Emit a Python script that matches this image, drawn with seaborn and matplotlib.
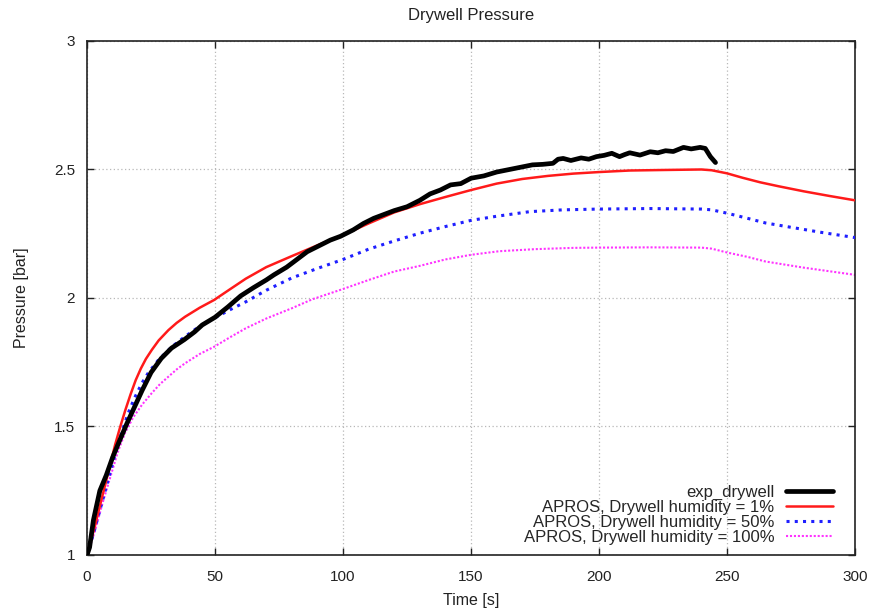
import matplotlib
matplotlib.use("Agg")
import matplotlib.pyplot as plt
import seaborn as sns

# Measured drywell pressure (bar) over time (s)
exp_time = [0, 1, 2.5, 5, 7.5, 10, 12.5, 15.5, 18.5, 21.5, 25, 29, 33, 38, 42, 45,
            50, 55, 60, 65, 70, 73, 78, 82, 86, 90, 95, 99, 104, 108, 112, 116, 120,
            125, 130, 134, 138, 142, 146, 150, 155, 160, 165, 170, 174, 178, 182,
            184, 186, 189, 193, 196, 199, 202, 205, 208, 210, 212, 216, 220, 223,
            226, 229, 233, 236, 239.5, 241.5, 243.5, 245.5]
exp_pressure = [1.0, 1.03, 1.136, 1.25, 1.31, 1.38, 1.44, 1.51, 1.575, 1.64, 1.71,
                1.765, 1.805, 1.838, 1.868, 1.895, 1.925, 1.965, 2.008, 2.04, 2.07,
                2.09, 2.12, 2.15, 2.18, 2.20, 2.225, 2.24, 2.265, 2.29, 2.31, 2.325,
                2.34, 2.355, 2.38, 2.405, 2.42, 2.44, 2.445, 2.466, 2.475, 2.49, 2.50,
                2.51, 2.518, 2.52, 2.524, 2.54, 2.543, 2.535, 2.545, 2.54, 2.55,
                2.555, 2.563, 2.55, 2.558, 2.565, 2.556, 2.569, 2.565, 2.573, 2.57,
                2.586, 2.58, 2.586, 2.582, 2.55, 2.527]

# APROS simulations, drywell humidity 1 %
h1_time = [0, 3, 6, 9, 11, 13, 15, 17, 19, 21, 23, 25.3, 28, 31.8, 35, 38.3, 44,
           49.6, 56, 62, 70, 80, 90, 100, 110, 120, 130, 140, 150, 160, 170, 180,
           190, 200, 212, 225, 240, 244, 250, 256, 263, 270, 280, 290, 300]
h1_pressure = [1.0, 1.11, 1.23, 1.35, 1.43, 1.50, 1.565, 1.625, 1.68, 1.725, 1.763,
               1.798, 1.835, 1.875, 1.903, 1.927, 1.962, 1.992, 2.035, 2.075, 2.12,
               2.163, 2.205, 2.245, 2.29, 2.333, 2.365, 2.393, 2.42, 2.445, 2.463,
               2.475, 2.484, 2.49, 2.496, 2.498, 2.50, 2.497, 2.485, 2.468, 2.45,
               2.435, 2.415, 2.397, 2.38]

# APROS simulations, drywell humidity 50 %
h50_time = [0, 3, 6, 9, 12, 16, 18.5, 21.4, 24, 27.9, 33.1, 38.3, 44, 49.6, 56,
            62, 70, 80, 90, 100, 110, 120, 130, 140, 150, 160, 173, 186, 200, 220,
            240, 244, 250, 258, 265, 275, 287, 300]
h50_pressure = [1.0, 1.1, 1.21, 1.32, 1.43, 1.55, 1.61, 1.668, 1.71, 1.759, 1.81,
                1.85, 1.89, 1.921, 1.955, 1.985, 2.03, 2.078, 2.115, 2.15, 2.19,
                2.222, 2.252, 2.278, 2.302, 2.318, 2.336, 2.343, 2.346, 2.348,
                2.346, 2.343, 2.33, 2.31, 2.292, 2.275, 2.255, 2.235]

# APROS simulations, drywell humidity 100 %
h100_time = [0, 3, 6, 9, 12, 14.8, 18, 21.5, 25.3, 28.5, 31.8, 35, 38.3, 44, 49.6,
             56, 62, 70, 80, 88, 100, 110, 120, 130, 140, 150, 161, 175, 190, 200,
             220, 240, 244, 250, 258, 265, 280, 300]
h100_pressure = [1.0, 1.09, 1.2, 1.3, 1.4, 1.474, 1.535, 1.585, 1.63, 1.665, 1.694,
                 1.722, 1.746, 1.782, 1.81, 1.848, 1.882, 1.92, 1.96, 1.995, 2.035,
                 2.07, 2.103, 2.125, 2.15, 2.168, 2.182, 2.19, 2.195, 2.196, 2.197,
                 2.196, 2.192, 2.177, 2.16, 2.142, 2.118, 2.09]

series_labels = ["exp_drywell",
                 "APROS, Drywell humidity = 1%",
                 "APROS, Drywell humidity = 50%",
                 "APROS, Drywell humidity = 100%"]

x_ticks = [0, 50, 100, 150, 200, 250, 300]
y_ticks = [1, 1.5, 2, 2.5, 3]
y_tick_labels = ["1", "1.5", "2", "2.5", "3"]

sns.set_theme(style="white")
plt.rcParams["font.family"] = ["Liberation Sans", "DejaVu Sans"]

fig = plt.figure(figsize=(8.73, 6.09), dpi=100)
ax = fig.add_axes([0.0997, 0.0887, 0.8797, 0.8440])

sns.lineplot(x=exp_time, y=exp_pressure, ax=ax, color="black", lw=3.4,
             label=series_labels[0], zorder=5)
sns.lineplot(x=h1_time, y=h1_pressure, ax=ax, color="#ff1a1a", lw=1.8,
             label=series_labels[1], zorder=4)
sns.lineplot(x=h50_time, y=h50_pressure, ax=ax, color="#1f1fff", lw=2.2,
             linestyle=(0, (1.0, 1.7)), label=series_labels[2], zorder=3)
sns.lineplot(x=h100_time, y=h100_pressure, ax=ax, color="#ff33ff", lw=1.5,
             linestyle=(0, (1.0, 0.9)), label=series_labels[3], zorder=2)

ax.set_xlim(0, 300)
ax.set_ylim(1, 3)
ax.set_xticks(x_ticks)
ax.set_yticks(y_ticks)
ax.set_yticklabels(y_tick_labels)

ax.grid(True, color="#b8b8b8", linestyle=(0, (1, 2)), lw=0.9)
ax.set_axisbelow(True)
for s in ax.spines.values():
    s.set_color("#222222")
    s.set_linewidth(1.2)

ax.tick_params(axis="both", which="major", direction="in", length=5, width=1,
               color="#222222", labelsize=11, labelcolor="#222222",
               top=True, right=True, bottom=True, left=True)
ax.tick_params(axis="x", pad=11)
ax.tick_params(axis="y", pad=8.5)

ax.set_title("Drywell Pressure", fontsize=12, pad=15, color="#222222")
ax.set_xlabel("Time [s]", fontsize=11.5, labelpad=6, color="#222222")
ax.set_ylabel("Pressure [bar]", fontsize=11.5, labelpad=18, color="#222222")

ax.legend(loc="lower right", bbox_to_anchor=(0.971, 0.02), markerfirst=False,
          frameon=False, fontsize=12, handlelength=2.8, handletextpad=0.7,
          labelspacing=0.0, borderpad=0, borderaxespad=0)

fig.savefig("out.png", dpi=100, facecolor="white")
